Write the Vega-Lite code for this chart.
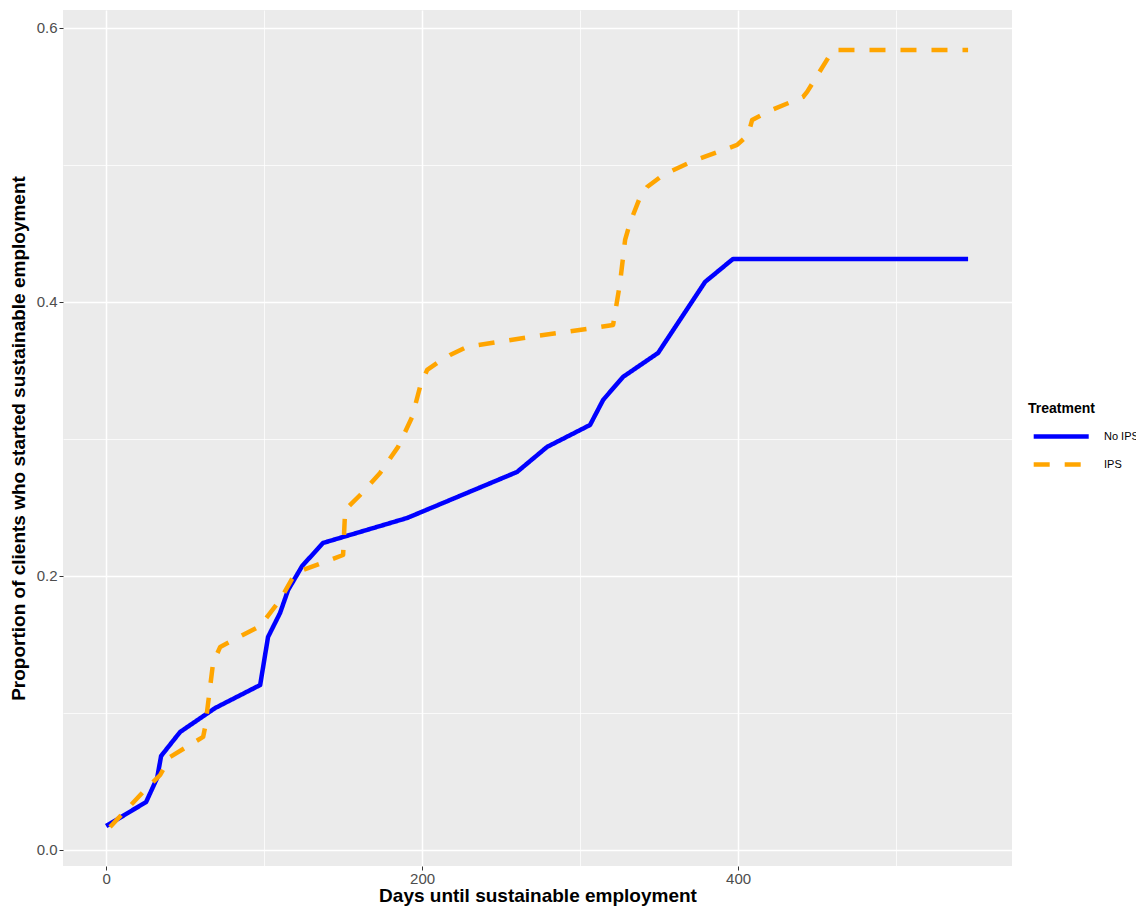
{
  "$schema": "https://vega.github.io/schema/vega-lite/v6.json",
  "width": 949,
  "height": 856,
  "autosize": {"type": "none"},
  "padding": {"left": 63, "top": 10, "right": 124, "bottom": 44},
  "background": "white",
  "config": {
    "view": {"fill": "#EBEBEB", "stroke": null},
    "font": "Liberation Sans"
  },
  "data": {
    "values": [
      {"days": 0, "prop": 0.0175, "treatment": "No IPS"},
      {"days": 25.3, "prop": 0.035, "treatment": "No IPS"},
      {"days": 32.3, "prop": 0.0526, "treatment": "No IPS"},
      {"days": 34.8, "prop": 0.0686, "treatment": "No IPS"},
      {"days": 46.8, "prop": 0.0861, "treatment": "No IPS"},
      {"days": 69.0, "prop": 0.1036, "treatment": "No IPS"},
      {"days": 97.5, "prop": 0.1204, "treatment": "No IPS"},
      {"days": 102.5, "prop": 0.1555, "treatment": "No IPS"},
      {"days": 110.1, "prop": 0.173, "treatment": "No IPS"},
      {"days": 115.2, "prop": 0.1898, "treatment": "No IPS"},
      {"days": 124.1, "prop": 0.2073, "treatment": "No IPS"},
      {"days": 137.3, "prop": 0.2241, "treatment": "No IPS"},
      {"days": 190.5, "prop": 0.2423, "treatment": "No IPS"},
      {"days": 260.1, "prop": 0.2759, "treatment": "No IPS"},
      {"days": 279.1, "prop": 0.2942, "treatment": "No IPS"},
      {"days": 306.3, "prop": 0.3102, "treatment": "No IPS"},
      {"days": 314.6, "prop": 0.3285, "treatment": "No IPS"},
      {"days": 327.2, "prop": 0.3453, "treatment": "No IPS"},
      {"days": 349.4, "prop": 0.3628, "treatment": "No IPS"},
      {"days": 379.1, "prop": 0.4146, "treatment": "No IPS"},
      {"days": 396.8, "prop": 0.4314, "treatment": "No IPS"},
      {"days": 545.6, "prop": 0.4314, "treatment": "No IPS"},
      {"days": 2.5, "prop": 0.0168, "treatment": "IPS"},
      {"days": 23.4, "prop": 0.0423, "treatment": "IPS"},
      {"days": 34.2, "prop": 0.0547, "treatment": "IPS"},
      {"days": 40.5, "prop": 0.0679, "treatment": "IPS"},
      {"days": 61.4, "prop": 0.0825, "treatment": "IPS"},
      {"days": 62.7, "prop": 0.0898, "treatment": "IPS"},
      {"days": 67.7, "prop": 0.1365, "treatment": "IPS"},
      {"days": 72.2, "prop": 0.1482, "treatment": "IPS"},
      {"days": 97.5, "prop": 0.1635, "treatment": "IPS"},
      {"days": 110.1, "prop": 0.1825, "treatment": "IPS"},
      {"days": 118.4, "prop": 0.1993, "treatment": "IPS"},
      {"days": 124.7, "prop": 0.2044, "treatment": "IPS"},
      {"days": 150.0, "prop": 0.2153, "treatment": "IPS"},
      {"days": 151.3, "prop": 0.2482, "treatment": "IPS"},
      {"days": 160.8, "prop": 0.2591, "treatment": "IPS"},
      {"days": 173.4, "prop": 0.2752, "treatment": "IPS"},
      {"days": 184.8, "prop": 0.2942, "treatment": "IPS"},
      {"days": 193.7, "prop": 0.3161, "treatment": "IPS"},
      {"days": 198.7, "prop": 0.338, "treatment": "IPS"},
      {"days": 203.2, "prop": 0.3504, "treatment": "IPS"},
      {"days": 209.5, "prop": 0.3555, "treatment": "IPS"},
      {"days": 217.7, "prop": 0.3613, "treatment": "IPS"},
      {"days": 228.5, "prop": 0.3672, "treatment": "IPS"},
      {"days": 268.4, "prop": 0.3745, "treatment": "IPS"},
      {"days": 308.2, "prop": 0.381, "treatment": "IPS"},
      {"days": 320.9, "prop": 0.3832, "treatment": "IPS"},
      {"days": 325.3, "prop": 0.4139, "treatment": "IPS"},
      {"days": 328.5, "prop": 0.4453, "treatment": "IPS"},
      {"days": 331.6, "prop": 0.4577, "treatment": "IPS"},
      {"days": 338.0, "prop": 0.4766, "treatment": "IPS"},
      {"days": 342.4, "prop": 0.4839, "treatment": "IPS"},
      {"days": 352.5, "prop": 0.4927, "treatment": "IPS"},
      {"days": 371.5, "prop": 0.5029, "treatment": "IPS"},
      {"days": 399.4, "prop": 0.5146, "treatment": "IPS"},
      {"days": 406.3, "prop": 0.5219, "treatment": "IPS"},
      {"days": 408.9, "prop": 0.5328, "treatment": "IPS"},
      {"days": 418.4, "prop": 0.5387, "treatment": "IPS"},
      {"days": 441.1, "prop": 0.5496, "treatment": "IPS"},
      {"days": 443.7, "prop": 0.5533, "treatment": "IPS"},
      {"days": 460.1, "prop": 0.5839, "treatment": "IPS"},
      {"days": 545.6, "prop": 0.5839, "treatment": "IPS"}
    ]
  },
  "mark": {"type": "line", "strokeWidth": 4.5, "strokeCap": "butt", "strokeJoin": "round"},
  "encoding": {
    "x": {
      "field": "days",
      "type": "quantitative",
      "scale": {"domain": [-27.3, 573.4], "nice": false, "zero": false},
      "axis": {
        "title": "Days until sustainable employment",
        "values": [0, 100, 200, 300, 400, 500],
        "labelExpr": "datum.value % 200 === 0 ? format(datum.value, 'd') : ''",
        "domain": false,
        "grid": true,
        "gridColor": "white",
        "gridWidth": {"condition": {"test": "datum.value % 200 === 0", "value": 1.5}, "value": 0.75},
        "tickColor": "#333333",
        "tickOpacity": {"condition": {"test": "datum.value % 200 === 0", "value": 1}, "value": 0},
        "tickSize": 4,
        "tickWidth": 1,
        "labelFontSize": 15,
        "labelColor": "#4D4D4D",
        "labelPadding": 1,
        "titleFontSize": 19,
        "titleFontWeight": "bold",
        "titleColor": "black",
        "titlePadding": 0
      }
    },
    "y": {
      "field": "prop",
      "type": "quantitative",
      "scale": {"domain": [-0.0117, 0.6131], "nice": false, "zero": false},
      "axis": {
        "title": "Proportion of clients who started sustainable employment",
        "values": [0, 0.1, 0.2, 0.3, 0.4, 0.5, 0.6],
        "labelExpr": "round(datum.value * 10) % 2 === 0 ? format(datum.value, '.1f') : ''",
        "domain": false,
        "grid": true,
        "gridColor": "white",
        "gridWidth": {"condition": {"test": "round(datum.value * 10) % 2 === 0", "value": 1.5}, "value": 0.75},
        "tickColor": "#333333",
        "tickOpacity": {"condition": {"test": "round(datum.value * 10) % 2 === 0", "value": 1}, "value": 0},
        "tickSize": 4,
        "tickWidth": 1,
        "labelFontSize": 15,
        "labelColor": "#4D4D4D",
        "labelPadding": 2,
        "titleFontSize": 19,
        "titleFontWeight": "bold",
        "titleColor": "black",
        "titlePadding": 8
      }
    },
    "color": {
      "field": "treatment",
      "type": "nominal",
      "scale": {"domain": ["No IPS", "IPS"], "range": ["#0000FF", "#FFA500"]},
      "legend": {
        "title": "Treatment",
        "orient": "none",
        "legendX": 965,
        "legendY": 392,
        "titleFontSize": 14,
        "titleFontWeight": "bold",
        "titleColor": "black",
        "titlePadding": 2,
        "labelFontSize": 11,
        "labelColor": "black",
        "labelOffset": 39,
        "symbolType": "M-0.81,0H2.67",
        "symbolSize": 1000,
        "symbolStrokeWidth": 4.5,
        "rowPadding": 0
      }
    },
    "strokeDash": {
      "field": "treatment",
      "type": "nominal",
      "scale": {"domain": ["No IPS", "IPS"], "range": [[1, 0], [16, 15]]},
      "legend": null
    }
  }
}
